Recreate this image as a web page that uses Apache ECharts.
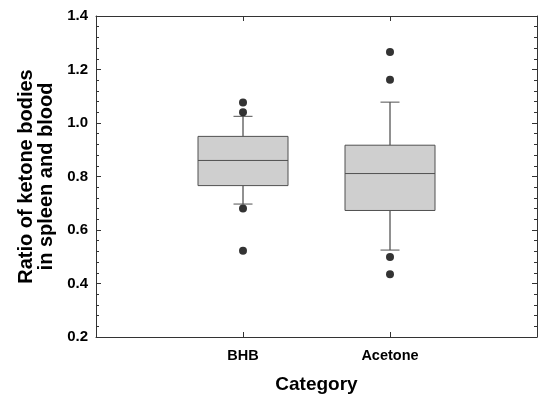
<!DOCTYPE html>
<html>
<head>
<meta charset="utf-8">
<script src="https://cdn.jsdelivr.net/npm/echarts@6/dist/echarts.min.js"></script>
<style>
  html, body { margin: 0; padding: 0; background: #fff; }
  #main { width: 540px; height: 399px; }
</style>
</head>
<body>
<div id="main"></div>
<script>
// 分类（首尾留空，让两个箱子落在 1/3、2/3 位置）
var categories = ['', 'BHB', 'Acetone', ''];
var boxNames = ['BHB', 'Acetone'];
// 箱线图数值
var lowerWhisker = [0.697, 0.525];
var q1 = [0.766, 0.673];
var median = [0.860, 0.811];
var q3 = [0.950, 0.917];
var upperWhisker = [1.025, 1.078];
// 离群点
var outliersBHB = [1.077, 1.040, 0.680, 0.522];
var outliersAcetone = [1.265, 1.162, 0.499, 0.435];

var font = 'Liberation Sans';
var axisColor = '#333';

var boxData = boxNames.map(function (name, i) {
	return [name, lowerWhisker[i], q1[i], median[i], q3[i], upperWhisker[i]];
});
var outlierData = [];
outliersBHB.forEach(function (v) { outlierData.push(['BHB', v]); });
outliersAcetone.forEach(function (v) { outlierData.push(['Acetone', v]); });

function renderBox(params, api) {
	var x = api.value(0);
	var pMin = api.coord([x, api.value(1)]);
	var pQ1 = api.coord([x, api.value(2)]);
	var pMed = api.coord([x, api.value(3)]);
	var pQ3 = api.coord([x, api.value(4)]);
	var pMax = api.coord([x, api.value(5)]);
	var cx = pMin[0];
	var halfBox = 45;
	var halfCap = 9.5;
	var lineStyle = { stroke: '#222', lineWidth: 1 };
	var boxStroke = { stroke: '#505050', lineWidth: 1 };
	return {
		type: 'group',
		children: [
			{ type: 'line', shape: { x1: cx, y1: pQ3[1], x2: cx, y2: pMax[1] }, style: lineStyle },
			{ type: 'line', shape: { x1: cx - halfCap, y1: pMax[1], x2: cx + halfCap, y2: pMax[1] }, style: boxStroke },
			{ type: 'line', shape: { x1: cx, y1: pQ1[1], x2: cx, y2: pMin[1] }, style: lineStyle },
			{ type: 'line', shape: { x1: cx - halfCap, y1: pMin[1], x2: cx + halfCap, y2: pMin[1] }, style: boxStroke },
			{ type: 'rect', shape: { x: cx - halfBox, y: pQ3[1], width: halfBox * 2, height: pQ1[1] - pQ3[1] },
				style: { fill: '#cfcfcf', stroke: '#505050', lineWidth: 1 } },
			{ type: 'line', shape: { x1: cx - halfBox, y1: pMed[1], x2: cx + halfBox, y2: pMed[1] }, style: boxStroke }
		]
	};
}

option = {
	backgroundColor: '#fff',
	animation: false,
	grid: {
		left: 96,
		top: 16,
		right: 0,
		bottom: 61
	},
	xAxis: [
	// 下方X轴
	{
		type: 'category',
		data: categories,
		boundaryGap: false,
		name: 'Category',
		nameLocation: 'middle',
		nameGap: 38,
		nameTextStyle: { fontFamily: font, fontWeight: 'bold', fontSize: 19, color: '#000' },
		axisLine: { lineStyle: { color: axisColor, width: 1 } },
		axisTick: { inside: true, length: 5, lineStyle: { color: axisColor } },
		axisLabel: { margin: 11, fontFamily: font, fontWeight: 'bold', fontSize: 14.5, color: '#000' },
		splitLine: { show: false }
	},
	// 上方X轴（只画刻度）
	{
		type: 'category',
		data: categories,
		boundaryGap: false,
		position: 'top',
		axisLine: { lineStyle: { color: axisColor, width: 1 } },
		axisTick: { inside: true, length: 5, lineStyle: { color: axisColor } },
		axisLabel: { show: false },
		splitLine: { show: false }
	} ],
	yAxis: [
	// 左侧Y轴
	{
		type: 'value',
		min: 0.2,
		max: 1.4,
		interval: 0.2,
		name: 'Ratio of ketone bodies\nin spleen and blood',
		nameLocation: 'middle',
		nameGap: 40,
		nameTextStyle: { fontFamily: font, fontWeight: 'bold', fontSize: 20, color: '#000', lineHeight: 20 },
		axisLine: { show: true, lineStyle: { color: axisColor, width: 1 } },
		axisTick: { show: true, inside: true, length: 5, lineStyle: { color: axisColor } },
		minorTick: { show: true, splitNumber: 5, length: 3, lineStyle: { color: axisColor } },
		axisLabel: {
			margin: 8,
			fontFamily: font,
			fontWeight: 'bold',
			fontSize: 15,
			color: '#000',
			formatter: function (value) { return value.toFixed(1); }
		},
		splitLine: { show: false }
	},
	// 右侧Y轴（只画刻度）
	{
		type: 'value',
		min: 0.2,
		max: 1.4,
		interval: 0.2,
		position: 'right',
		axisLine: { show: true, lineStyle: { color: axisColor, width: 1 } },
		axisTick: { show: true, inside: true, length: 5, lineStyle: { color: axisColor } },
		minorTick: { show: true, splitNumber: 5, length: 3, lineStyle: { color: axisColor } },
		axisLabel: { show: false },
		splitLine: { show: false }
	} ],
	series: [
	{
		name: 'box',
		type: 'custom',
		xAxisIndex: 0,
		yAxisIndex: 0,
		renderItem: renderBox,
		encode: { x: 0, y: [1, 2, 3, 4, 5] },
		data: boxData,
		z: 2
	},
	{
		name: 'outliers',
		type: 'scatter',
		xAxisIndex: 0,
		yAxisIndex: 0,
		symbol: 'circle',
		symbolSize: 8,
		itemStyle: { color: '#000' },
		data: outlierData,
		z: 3
	} ]
};

var chart = echarts.init(document.getElementById('main'), null, { renderer: 'canvas' });
chart.setOption(option);
</script>
</body>
</html>
